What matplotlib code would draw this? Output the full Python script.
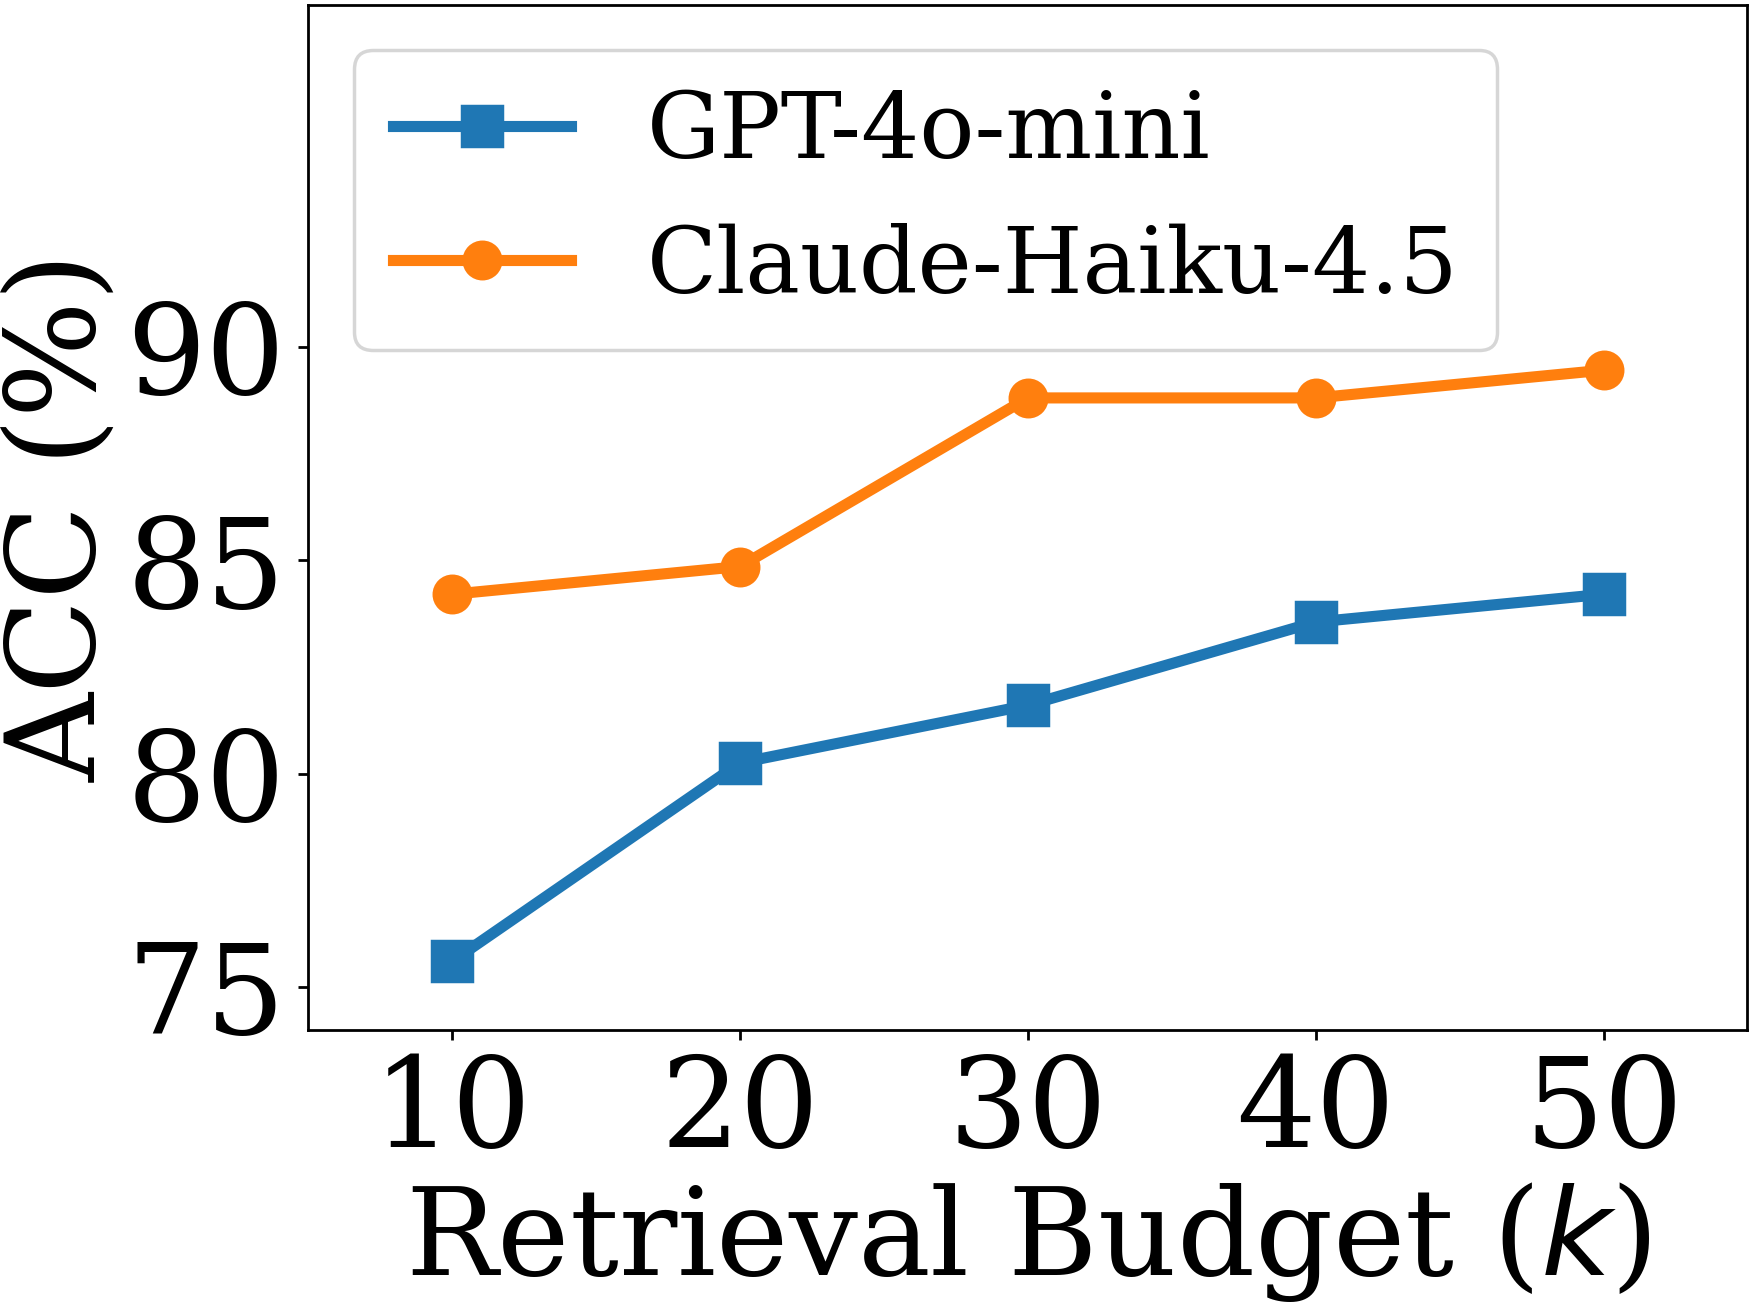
import matplotlib
matplotlib.use("Agg")
import matplotlib.pyplot as plt

budget = [10, 20, 30, 40, 50]
gpt4o_mini = [75.6, 80.25, 81.6, 83.55, 84.2]
claude_haiku = [84.2, 84.85, 88.8, 88.8, 89.45]
series_labels = ["GPT-4o-mini", "Claude-Haiku-4.5"]
yticks = [75, 80, 85, 90]

plt.rcParams['font.family'] = ['DejaVu Serif']
plt.rcParams['mathtext.fontset'] = 'dejavusans'

fig = plt.figure(figsize=(7.004, 5.22), dpi=250)
ax = fig.add_axes([0.176, 0.211, 0.822, 0.785])

ax.plot(budget, gpt4o_mini, marker='s', color='#1f77b4', lw=3.2, ms=11.5, label=series_labels[0])
ax.plot(budget, claude_haiku, marker='o', color='#ff7f0e', lw=3.2, ms=10.5, label=series_labels[1])

ax.set_xlim(5, 55)
ax.set_ylim(74, 98)
ax.set_xticks(budget)
ax.set_yticks(yticks)
ax.tick_params(axis='both', labelsize=36, length=3, width=0.8)
ax.set_xlabel("Retrieval Budget ($k$)", fontsize=35.2, labelpad=2)
ax.set_ylabel("ACC (%)", fontsize=35.5, labelpad=1.5)

ax.legend(loc='upper left', bbox_to_anchor=(0.032, 0.956), borderaxespad=0,
          fontsize=26.4, handlelength=1.95, handletextpad=0.82, labelspacing=0.5,
          borderpad=0.42)

fig.savefig("out.png", dpi=250)
